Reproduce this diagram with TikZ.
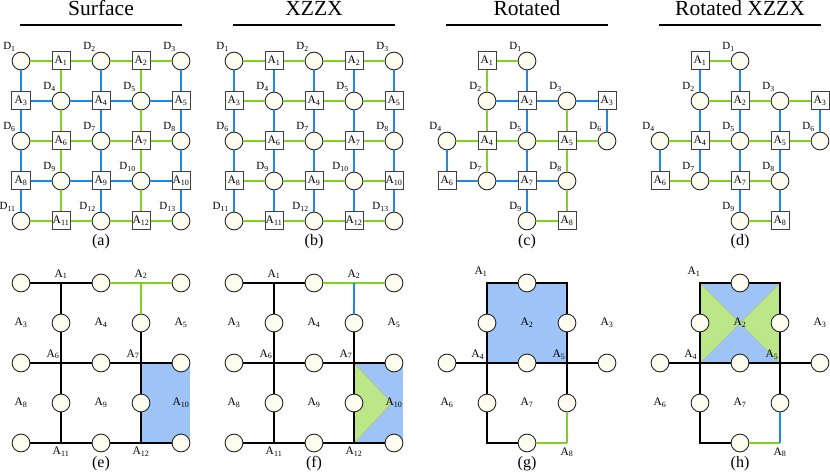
\documentclass[tikz,border=0pt]{standalone}
\usepackage{fontspec}
\setmainfont{Liberation Serif}
\definecolor{xgreen}{HTML}{7ED321}
\definecolor{zblue}{HTML}{1E88E5}
\definecolor{xfill}{HTML}{BCE788}
\definecolor{zfill}{HTML}{9DC3F7}
\definecolor{cream}{HTML}{FFFDF0}

\begin{document}
\begin{tikzpicture}[x=40pt,y=-40pt,
    dat/.style={circle,draw=black!85,fill=cream,line width=.9pt,minimum size=17.8pt,inner sep=0pt},
    anc/.style={rectangle,draw=black!75,fill=white,line width=1pt,minimum size=18pt,inner sep=0pt,font=\fontsize{11.5}{13}\selectfont},
    qlab/.style={inner sep=0pt,font=\fontsize{11.5}{13}\selectfont},
    dlab/.style={inner sep=0pt,anchor=base east,font=\fontsize{11}{13}\selectfont},
    wire/.style={line width=1.8pt},
    heading/.style={inner sep=0pt,anchor=base,font=\fontsize{21.5}{24}\selectfont},
    subcap/.style={inner sep=0pt,anchor=base,font=\fontsize{16}{18}\selectfont},
    tile/.style={draw=olive!60,line width=.3pt}]

  \useasboundingbox (0,0) rectangle (20.75,11.825);

  % headings and rules
  \foreach \p/\px/\ttl in {a/0.525/Surface,b/5.85/XZZX,c/11.175/Rotated,d/16.5/Rotated XZZX}{
    \begin{scope}[shift={(\px,1.525)}]
      \node[heading] (\p title) at (2,-1.14) {\ttl};
      \coordinate (\p ruleL) at (-.03,-.9);
      \coordinate (\p ruleR) at (4.03,-.9);
      \draw[line width=1.9pt] (\p ruleL) -- (\p ruleR);
    \end{scope}
  }

  % full lattices
  \foreach \p/\px/\hc/\vc/\cap in {a/0.525/zblue/xgreen/(a),b/5.85/xgreen/zblue/(b)}{
    \begin{scope}[shift={(\px,1.525)}]
      \foreach \cl/\rw/\n in {0/0/1,2/0/2,4/0/3,1/1/4,3/1/5,0/2/6,2/2/7,4/2/8,1/3/9,3/3/10,0/4/11,2/4/12,4/4/13}{
        \node[dat] (\p\cl\rw) at (\cl,\rw) {};
        \node[dlab] (\p D\n) at ([shift={(-.13,-.275)}]\p\cl\rw) {D\textsubscript{\n}};
      }
      \foreach \cl/\rw/\n in {1/0/1,3/0/2,0/1/3,2/1/4,4/1/5,1/2/6,3/2/7,0/3/8,2/3/9,4/3/10,1/4/11,3/4/12}
        \node[anc] (\p\cl\rw) at (\cl,\rw) {A\textsubscript{\n}};
      \foreach \cl [count=\cn from 1] in {0,...,3}{
        \foreach \rw in {0,2,4} \draw[wire,xgreen] (\p\cl\rw) -- (\p\cn\rw);
        \foreach \rw in {1,3} \draw[wire,\hc] (\p\cl\rw) -- (\p\cn\rw);
      }
      \foreach \rw [count=\rn from 1] in {0,...,3}{
        \foreach \cl in {0,2,4} \draw[wire,zblue] (\p\cl\rw) -- (\p\cl\rn);
        \foreach \cl in {1,3} \draw[wire,\vc] (\p\cl\rw) -- (\p\cl\rn);
      }
      \node[subcap] (\p cap) at (2,4.62) {\cap};
    \end{scope}
  }

  % rotated lattices
  \foreach \p/\px/\hc/\vc/\cap in {c/11.175/zblue/xgreen/(c),d/16.5/xgreen/zblue/(d)}{
    \begin{scope}[shift={(\px,1.525)}]
      \foreach \cl/\rw/\n in {2/0/1,1/1/2,3/1/3,0/2/4,2/2/5,4/2/6,1/3/7,3/3/8,2/4/9}{
        \node[dat] (\p\cl\rw) at (\cl,\rw) {};
        \node[dlab] (\p D\n) at ([shift={(-.13,-.275)}]\p\cl\rw) {D\textsubscript{\n}};
      }
      \foreach \cl/\rw/\n in {1/0/1,2/1/2,4/1/3,1/2/4,3/2/5,0/3/6,2/3/7,3/4/8}
        \node[anc] (\p\cl\rw) at (\cl,\rw) {A\textsubscript{\n}};
      \foreach \from/\to in {10/20,02/12,12/22,22/32,32/42,24/34}
        \draw[wire,xgreen] (\p\from) -- (\p\to);
      \foreach \from/\to in {11/21,21/31,31/41,03/13,13/23,23/33}
        \draw[wire,\hc] (\p\from) -- (\p\to);
      \foreach \from/\to in {02/03,20/21,21/22,22/23,23/24,41/42}
        \draw[wire,zblue] (\p\from) -- (\p\to);
      \foreach \from/\to in {10/11,11/12,12/13,31/32,32/33,33/34}
        \draw[wire,\vc] (\p\from) -- (\p\to);
      \node[subcap] (\p cap) at (2,4.62) {\cap};
    \end{scope}
  }

  % logical patches
  \fill[zfill] (3.525,9.075) rectangle (4.75,11.075);
  \fill[zfill] (8.85,9.075) rectangle (10.075,11.075);
  \filldraw[xfill,tile] (8.85,9.075) -- (9.79,10.075) -- (8.85,11.075) -- cycle;
  \fill[zfill] (12.175,7.075) rectangle (14.175,9.075);
  \fill[zfill] (17.5,7.075) rectangle (19.5,9.075);
  \filldraw[xfill,tile] (17.5,7.075) -- (18.5,8.075) -- (17.5,9.075) -- cycle;
  \filldraw[xfill,tile] (19.5,7.075) -- (18.5,8.075) -- (19.5,9.075) -- cycle;

  % surface code errors
  \foreach \p/\px/\tc/\cap in {e/0.525/xgreen/(e),f/5.85/zblue/(f)}{
    \begin{scope}[shift={(\px,7.075)}]
      \foreach \cl/\rw in {0/0,2/0,4/0,1/1,3/1,0/2,2/2,4/2,1/3,3/3,0/4,2/4,4/4}
        \node[dat] (\p\cl\rw) at (\cl,\rw) {};
      \foreach \cl/\rw in {1/0,3/0,1/2,3/2,1/4,3/4}
        \coordinate (\p\cl\rw) at (\cl,\rw);
      \draw[wire] (\p00) -- (\p10) -- (\p20);
      \draw[wire] (\p02) -- (\p12) -- (\p22) -- (\p32) -- (\p42);
      \draw[wire] (\p04) -- (\p14) -- (\p24) -- (\p34) -- (\p44);
      \draw[wire] (\p10) -- (\p11) -- (\p12) -- (\p13) -- (\p14);
      \draw[wire] (\p31) -- (\p32) -- (\p33) -- (\p34);
      \draw[wire,xgreen] (\p20) -- (\p30) -- (\p40);
      \draw[wire,\tc] (\p30) -- (\p31);
      \foreach \x/\y/\n in {1/-.22/1,3/-.22/2,0/1/3,2/1/4,4/1/5,.8/1.78/6,2.8/1.78/7,0/3/8,2/3/9,4/3/10,1/4.22/11,3/4.22/12}
        \node[qlab] (\p A\n) at (\x,\y) {A\textsubscript{\n}};
      \node[subcap] (\p cap) at (2,4.62) {\cap};
    \end{scope}
  }

  % rotated code errors
  \foreach \p/\px/\tc/\cap in {g/11.175/xgreen/(g),h/16.5/zblue/(h)}{
    \begin{scope}[shift={(\px,7.075)}]
      \foreach \cl/\rw in {2/0,1/1,3/1,0/2,2/2,4/2,1/3,3/3,2/4}
        \node[dat] (\p\cl\rw) at (\cl,\rw) {};
      \foreach \cl/\rw in {1/0,3/0,1/2,3/2,1/4,3/4}
        \coordinate (\p\cl\rw) at (\cl,\rw);
      \draw[wire] (\p24) -- (\p14) -- (\p13) -- (\p12) -- (\p11) -- (\p10) -- (\p20) -- (\p30) -- (\p31) -- (\p32) -- (\p33);
      \draw[wire] (\p02) -- (\p12) -- (\p22) -- (\p32) -- (\p42);
      \draw[wire,xgreen] (\p24) -- (\p34);
      \draw[wire,\tc] (\p34) -- (\p33);
      \foreach \x/\y/\n in {.85/-.28/1,2/1/2,4/1/3,.77/1.8/4,2.8/1.8/5,0/3/6,2/3/7,3/4.23/8}
        \node[qlab] (\p A\n) at (\x,\y) {A\textsubscript{\n}};
      \node[subcap] (\p cap) at (2,4.62) {\cap};
    \end{scope}
  }

\end{tikzpicture}
\end{document}
